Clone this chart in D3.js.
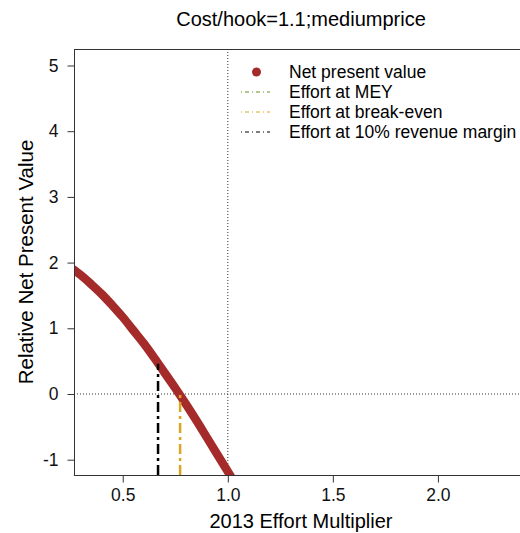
<!DOCTYPE html>
<html>
<head>
<meta charset="utf-8">
<script src="https://cdn.jsdelivr.net/npm/d3@7"></script>
<style>
  body { margin: 0; background: #fff; }
  svg { display: block; font-family: "Liberation Sans", Arial, sans-serif; }
</style>
</head>
<body>
<div id="chart"></div>
<script>
// effort multiplier vs relative NPV
const effort = [0.268, 0.30, 0.35, 0.40, 0.45, 0.50, 0.55, 0.60, 0.65, 0.70, 0.75, 0.80, 0.85, 0.90, 0.95, 1.00, 1.05];
const npv    = [1.89, 1.81, 1.67, 1.52, 1.35, 1.17, 0.97, 0.77, 0.55, 0.32, 0.09, -0.15, -0.40, -0.66, -0.92, -1.18, -1.44];

// reference efforts: break-even and 10% revenue margin (MEY falls off the left edge)
const refNames  = ["Effort at break-even", "Effort at 10% revenue margin"];
const refEffort = [0.773, 0.668];
const refNpv    = [0, 0.46];

const xTicks = [0.5, 1.0, 1.5, 2.0];
const yTicks = [-1, 0, 1, 2, 3, 4, 5];
const legendLabels = ["Net present value", "Effort at MEY", "Effort at break-even", "Effort at 10% revenue margin"];

const width = 520, height = 533;
const margin = { left: 74, top: 49, right: 527, bottom: 475 };

const x = d3.scaleLinear().domain([0.268, 2.424]).range([margin.left, margin.right]);
const y = d3.scaleLinear().domain([-1.233, 5.251]).range([margin.bottom, margin.top]);

const svg = d3.select("#chart").append("svg")
    .attr("width", width)
    .attr("height", height);

svg.append("clipPath").attr("id", "plotClip")
  .append("rect")
    .attr("x", margin.left).attr("y", margin.top)
    .attr("width", margin.right - margin.left)
    .attr("height", margin.bottom - margin.top);

const plot = svg.append("g").attr("clip-path", "url(#plotClip)");

// dotted reference lines at effort 1 and npv 0
plot.append("line")
    .attr("x1", x(1)).attr("x2", x(1))
    .attr("y1", margin.top).attr("y2", margin.bottom)
    .attr("stroke", "#333").attr("stroke-width", 1).attr("stroke-dasharray", "1 2");
plot.append("line")
    .attr("x1", margin.left).attr("x2", margin.right)
    .attr("y1", y(0)).attr("y2", y(0))
    .attr("stroke", "#333").attr("stroke-width", 1).attr("stroke-dasharray", "1 2");

// NPV curve (dense points in the original, drawn as a thick line)
const pts = effort.map((e, i) => [e, npv[i]]);
plot.append("path")
    .datum(pts)
    .attr("fill", "none")
    .attr("stroke", "#A52A2A")
    .attr("stroke-width", 8.5)
    .attr("stroke-linecap", "round")
    .attr("d", d3.line().x(d => x(d[0])).y(d => y(d[1])).curve(d3.curveMonotoneX));

// vertical effort markers
const refColors = ["#DAA520", "#000"];
refEffort.forEach((e, i) => {
    plot.append("line")
        .attr("x1", x(e)).attr("x2", x(e))
        .attr("y1", margin.bottom).attr("y2", y(refNpv[i]))
        .attr("stroke", refColors[i])
        .attr("stroke-width", 2.5)
        .attr("stroke-dasharray", "10 4 3 4");
});

// box
svg.append("rect")
    .attr("x", margin.left + 0.5).attr("y", margin.top + 0.5)
    .attr("width", margin.right - margin.left)
    .attr("height", margin.bottom - margin.top)
    .attr("fill", "none").attr("stroke", "#333").attr("stroke-width", 1);

// axes
const xAxis = svg.append("g")
    .attr("transform", `translate(0,${margin.bottom + 0.5})`)
    .call(d3.axisBottom(x).tickValues(xTicks).tickFormat(d3.format(".1f")).tickSize(7).tickPadding(6));
const yAxis = svg.append("g")
    .attr("transform", `translate(${margin.left + 0.5},0)`)
    .call(d3.axisLeft(y).tickValues(yTicks).tickFormat(d => String(d)).tickSize(7).tickPadding(9));
[xAxis, yAxis].forEach(a => {
    a.select(".domain").remove();
    a.selectAll(".tick line").attr("stroke", "#333");
    a.selectAll(".tick text")
        .attr("font-family", "Liberation Sans, Arial, sans-serif")
        .attr("font-size", 17.5).attr("fill", "#111");
});

// titles
svg.append("text")
    .attr("x", 301).attr("y", 26)
    .attr("text-anchor", "middle").attr("font-size", 20)
    .text("Cost/hook=1.1;mediumprice");
svg.append("text")
    .attr("x", 301).attr("y", 528)
    .attr("text-anchor", "middle").attr("font-size", 20)
    .text("2013 Effort Multiplier");
svg.append("text")
    .attr("transform", `translate(33,${(margin.top + margin.bottom) / 2}) rotate(-90)`)
    .attr("text-anchor", "middle").attr("font-size", 20.5)
    .text("Relative Net Present Value");

// legend
const legendColors = ["#A52A2A", "#6B8E23", "#DAA520", "#000"];
const legend = svg.append("g");
legendLabels.forEach((lab, i) => {
    const ly = 72 + i * 20;
    if (i === 0) {
        legend.append("circle").attr("cx", 256.5).attr("cy", ly).attr("r", 4.5).attr("fill", legendColors[i]);
    } else {
        legend.append("line")
            .attr("x1", 241).attr("x2", 270).attr("y1", ly).attr("y2", ly)
            .attr("stroke", legendColors[i]).attr("stroke-width", 1)
            .attr("stroke-dasharray", "1 3 4 3");
    }
    legend.append("text")
        .attr("x", 289).attr("y", ly + 6)
        .attr("font-size", 17.5)
        .text(lab);
});
</script>
</body>
</html>
